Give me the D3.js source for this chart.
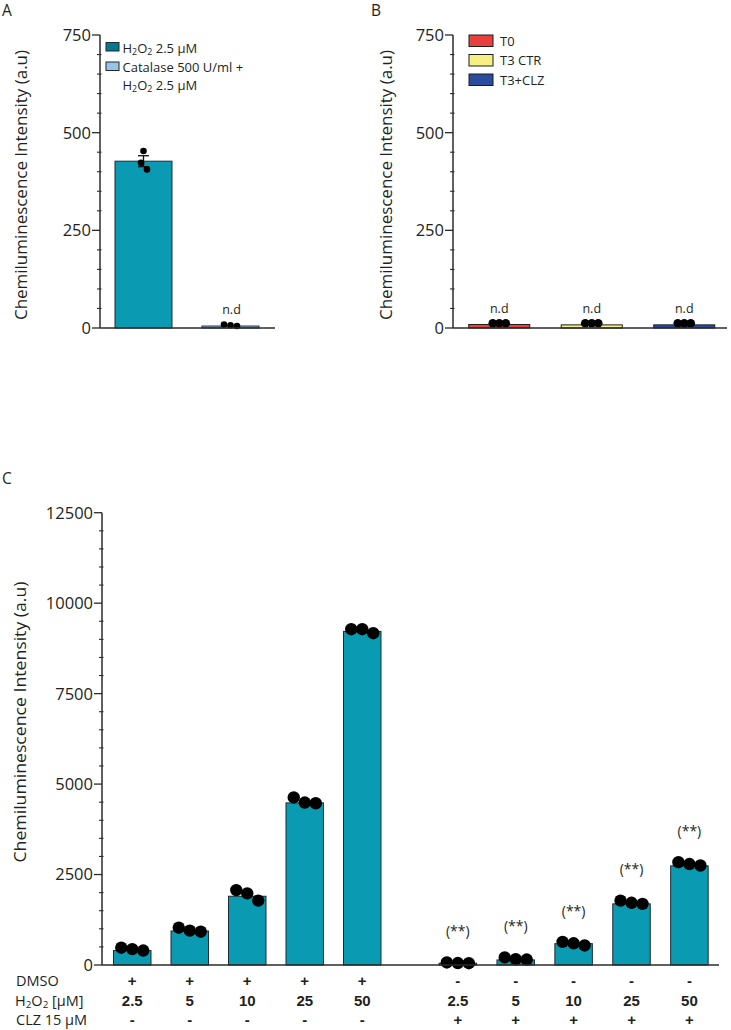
<!DOCTYPE html>
<html><head><meta charset="utf-8">
<script src="https://cdn.jsdelivr.net/npm/d3@7"></script>
<style>
html,body{margin:0;padding:0;background:#fff;}
svg{display:block;}
text{font-family:"Open Sans","Noto Sans",sans-serif;fill:#231f20;}
</style></head>
<body>
<svg id="chart" width="731" height="1030"></svg>
<script>
// ---------- Panel A data ----------
const aCategories = ["H2O2", "Catalase"];
const aMeans = [427, 5];
const aSem = [14, 0];
const aPoints = [[453, 423, 406], [9, 7, 5]];
const aJitter = [[0, -2.5, 3.5], [-6.5, 0, 6.5]];
const aLabels = ["", "n.d"];
const aTicks = [0, 250, 500, 750];

// ---------- Panel B data ----------
const bCategories = ["T0", "T3 CTR", "T3+CLZ"];
const bValues = [9, 8, 8];
const bPoints = [[12, 12, 12], [12, 12, 12], [12, 12, 12]];
const bLabels = ["n.d", "n.d", "n.d"];
const bColors = ["#e8403f", "#f6ef84", "#2a4c9c"];
const bTicks = [0, 250, 500, 750];

// ---------- Panel C data ----------
const cCategories = ["d2.5", "d5", "d10", "d25", "d50", "c2.5", "c5", "c10", "c25", "c50"];
const cDMSO = ["+", "+", "+", "+", "+", "-", "-", "-", "-", "-"];
const cH2O2 = ["2.5", "5", "10", "25", "50", "2.5", "5", "10", "25", "50"];
const cCLZ = ["-", "-", "-", "-", "-", "+", "+", "+", "+", "+"];
const cValues = [400, 940, 1900, 4480, 9220, 50, 140, 590, 1690, 2740];
const cPoints = [[478, 440, 400], [1030, 950, 920], [2070, 1980, 1780], [4630, 4490, 4470], [9280, 9280, 9170],
                 [70, 55, 50], [210, 160, 150], [640, 600, 540], [1780, 1720, 1690], [2840, 2790, 2750]];
const cSig = ["", "", "", "", "", "(**)", "(**)", "(**)", "(**)", "(**)"];
const cTicks = [0, 2500, 5000, 7500, 10000, 12500];

const TEAL = "#0a9ab2";
const AXIS = "#2b2b2b";
const svg = d3.select("#chart");

function subText(g, parts, attrs) {
  const t = g.append("text");
  Object.entries(attrs).forEach(([k, v]) => t.attr(k, v));
  let sub = false;
  parts.forEach(([s, isSub]) => {
    const ts = t.append("tspan").text(s);
    if (isSub && !sub) { ts.attr("dy", 2.5).attr("font-size", "0.68em"); sub = true; }
    else if (!isSub && sub) { ts.attr("dy", -2.5); sub = false; }
  });
  return t;
}

function yAxis(g, y, x0, ticks, minorStep) {
  const dom = y.domain();
  const minor = d3.range(dom[0], dom[1] + 1e-9, minorStep).filter(v => !ticks.includes(v));
  g.append("line").attr("x1", x0).attr("x2", x0).attr("y1", y(dom[0])).attr("y2", y(dom[1]))
    .attr("stroke", AXIS).attr("stroke-width", 1.5);
  g.selectAll(".maj").data(ticks).join("line")
    .attr("x1", x0 - 8).attr("x2", x0).attr("y1", d => y(d)).attr("y2", d => y(d))
    .attr("stroke", AXIS).attr("stroke-width", 1.3);
  g.selectAll(".mn").data(minor).join("line")
    .attr("x1", x0 - 3).attr("x2", x0 + 1.5).attr("y1", d => y(d)).attr("y2", d => y(d))
    .attr("stroke", AXIS).attr("stroke-width", 1.1);
  g.selectAll(".tl").data(ticks).join("text")
    .attr("x", x0 - 9).attr("y", d => y(d)).attr("dy", "0.36em")
    .attr("text-anchor", "end").attr("font-size", 16.5).text(d => d);
}

function yTitle(g, cx, cy, len) {
  g.append("text").attr("transform", `translate(${cx},${cy}) rotate(-90)`)
    .attr("text-anchor", "middle").attr("dy", "0.35em").attr("font-size", 16)
    .attr("textLength", len).attr("lengthAdjust", "spacingAndGlyphs")
    .text("Chemiluminescence Intensity (a.u)");
}

// ================= Panel A =================
(function () {
  const g = svg.append("g");
  const y = d3.scaleLinear().domain([0, 750]).range([328, 35]);
  const x = d3.scaleBand().domain(aCategories).range([100, 274]).paddingInner(0.345).paddingOuter(0.1725);
  g.append("text").attr("x", 2).attr("y", 16).attr("font-size", 15.5).text("A");
  yTitle(g, 21, 185, 270);
  g.selectAll(".bar").data(aCategories).join("rect")
    .attr("x", d => x(d)).attr("width", x.bandwidth())
    .attr("y", (d, i) => y(aMeans[i])).attr("height", (d, i) => y(0) - y(aMeans[i]))
    .attr("fill", (d, i) => i === 0 ? TEAL : "#9cc3e6").attr("stroke", "#1d2b33").attr("stroke-width", 1);
  aCategories.forEach((c, i) => {
    if (!aSem[i]) return;
    const cx = x(c) + x.bandwidth() / 2;
    const top = y(aMeans[i] + aSem[i]), bot = y(aMeans[i] - aSem[i]);
    g.append("line").attr("x1", cx).attr("x2", cx).attr("y1", top).attr("y2", bot).attr("stroke", "#111").attr("stroke-width", 1.3);
    g.append("line").attr("x1", cx - 5.5).attr("x2", cx + 5.5).attr("y1", top).attr("y2", top).attr("stroke", "#111").attr("stroke-width", 1.3);
    g.append("line").attr("x1", cx - 5.5).attr("x2", cx + 5.5).attr("y1", bot).attr("y2", bot).attr("stroke", "#111").attr("stroke-width", 1.3);
  });
  aCategories.forEach((c, i) => {
    const cx = x(c) + x.bandwidth() / 2;
    g.selectAll(null).data(aPoints[i]).join("circle")
      .attr("cx", (d, j) => cx + aJitter[i][j]).attr("cy", d => y(d)).attr("r", 3.3).attr("fill", "#000");
    if (aLabels[i]) g.append("text").attr("x", cx + 1).attr("y", y(d3.max(aPoints[i])) - 10)
      .attr("text-anchor", "middle").attr("font-size", 12.5).text(aLabels[i]);
  });
  g.append("line").attr("x1", 100).attr("x2", 275).attr("y1", y(0)).attr("y2", y(0)).attr("stroke", AXIS).attr("stroke-width", 1.5);
  yAxis(g, y, 100, aTicks, 50);
  const lg = g.append("g");
  lg.append("rect").attr("x", 106).attr("y", 42.5).attr("width", 13).attr("height", 8.5)
    .attr("fill", "#03798c").attr("stroke", "#1d2b33").attr("stroke-width", 1);
  lg.append("rect").attr("x", 106).attr("y", 62).attr("width", 13).attr("height", 8.5)
    .attr("fill", "#9cc3e6").attr("stroke", "#1d2b33").attr("stroke-width", 1);
  subText(lg, [["H", false], ["2", true], ["O", false], ["2", true], [" 2.5 µM", false]], { x: 122.5, y: 52.5, "font-size": 13 });
  lg.append("text").attr("x", 122.5).attr("y", 71.5).attr("font-size", 13).text("Catalase 500 U/ml +");
  subText(lg, [["H", false], ["2", true], ["O", false], ["2", true], [" 2.5 µM", false]], { x: 122.5, y: 89.5, "font-size": 13 });
})();

// ================= Panel B =================
(function () {
  const g = svg.append("g");
  const y = d3.scaleLinear().domain([0, 750]).range([328, 35]);
  const x = d3.scaleBand().domain(bCategories).range([453, 730.5]).paddingInner(0.34).paddingOuter(0.17);
  g.append("text").attr("x", 371).attr("y", 16).attr("font-size", 15.5).text("B");
  yTitle(g, 386, 185, 270);
  g.selectAll(".bar").data(bCategories).join("rect")
    .attr("x", d => x(d)).attr("width", x.bandwidth())
    .attr("y", (d, i) => y(bValues[i])).attr("height", (d, i) => y(0) - y(bValues[i]))
    .attr("fill", (d, i) => bColors[i]).attr("stroke", "#1d1d1d").attr("stroke-width", 1);
  bCategories.forEach((c, i) => {
    const cx = x(c) + x.bandwidth() / 2;
    g.selectAll(null).data(bPoints[i]).join("circle")
      .attr("cx", (d, j) => cx + (j - 1) * 6.5).attr("cy", d => y(d)).attr("r", 4.3).attr("fill", "#000");
    g.append("text").attr("x", cx).attr("y", y(d3.max(bPoints[i])) - 10)
      .attr("text-anchor", "middle").attr("font-size", 12.5).text(bLabels[i]);
  });
  g.append("line").attr("x1", 453).attr("x2", 727).attr("y1", y(0)).attr("y2", y(0)).attr("stroke", AXIS).attr("stroke-width", 1.5);
  yAxis(g, y, 453, bTicks, 50);
  const lg = g.append("g");
  bCategories.forEach((c, i) => {
    lg.append("rect").attr("x", 469).attr("y", 35 + i * 19.5).attr("width", 24).attr("height", 11.5)
      .attr("fill", bColors[i]).attr("stroke", "#1d1d1d").attr("stroke-width", 1);
    lg.append("text").attr("x", 500).attr("y", 45.5 + i * 19.5).attr("font-size", 13).text(c);
  });
})();

// ================= Panel C =================
(function () {
  const g = svg.append("g");
  const y = d3.scaleLinear().domain([0, 12500]).range([965, 512.7]);
  const xL = d3.scaleBand().domain(cCategories.slice(0, 5)).range([103.5, 391]).paddingInner(0.348).paddingOuter(0.174);
  const xR = d3.scaleBand().domain(cCategories.slice(5)).range([429, 718.5]).paddingInner(0.348).paddingOuter(0.174);
  const xs = c => (xL.domain().includes(c) ? xL(c) : xR(c));
  const bw = xL.bandwidth();
  const cxOf = c => xs(c) + bw / 2;
  g.append("text").attr("x", 2).attr("y", 484).attr("font-size", 15.5).text("C");
  yTitle(g, 20, 722, 281);
  g.selectAll(".bar").data(cCategories).join("rect")
    .attr("x", d => xs(d)).attr("width", bw)
    .attr("y", (d, i) => y(cValues[i])).attr("height", (d, i) => y(0) - y(cValues[i]))
    .attr("fill", TEAL).attr("stroke", "#1d2b33").attr("stroke-width", 1);
  cCategories.forEach((c, i) => {
    const cx = cxOf(c);
    g.selectAll(null).data(cPoints[i]).join("circle")
      .attr("cx", (d, j) => cx + (j - 1) * 11).attr("cy", d => y(d)).attr("r", 6.2).attr("fill", "#000");
    if (cSig[i]) g.append("text").attr("x", cx).attr("y", y(d3.max(cPoints[i])) - 31).attr("dy", "0.35em")
      .attr("text-anchor", "middle").attr("font-size", 14).text(cSig[i]);
  });
  g.append("line").attr("x1", 102).attr("x2", 719).attr("y1", y(0)).attr("y2", y(0)).attr("stroke", AXIS).attr("stroke-width", 1.5);
  yAxis(g, y, 102, cTicks, 500);

  const rows = [["DMSO", cDMSO, 985.5], ["H2O2", cH2O2, 1005.5], ["CLZ 15 µM", cCLZ, 1025]];
  rows.forEach(([lab, vals, by]) => {
    if (lab === "H2O2") subText(g, [["H", false], ["2", true], ["O", false], ["2", true], [" [µM]", false]], { x: 15, y: by, "font-size": 14.5 });
    else g.append("text").attr("x", 16).attr("y", by).attr("font-size", 14.5).text(lab);
    g.selectAll(null).data(cCategories).join("text")
      .attr("x", d => cxOf(d)).attr("y", by).attr("text-anchor", "middle")
      .attr("font-size", 15).attr("font-weight", "bold")
      .style("font-family", '"Liberation Sans Narrow","Liberation Sans",sans-serif')
      .text((d, i) => vals[i]);
  });
})();
</script>
</body></html>
